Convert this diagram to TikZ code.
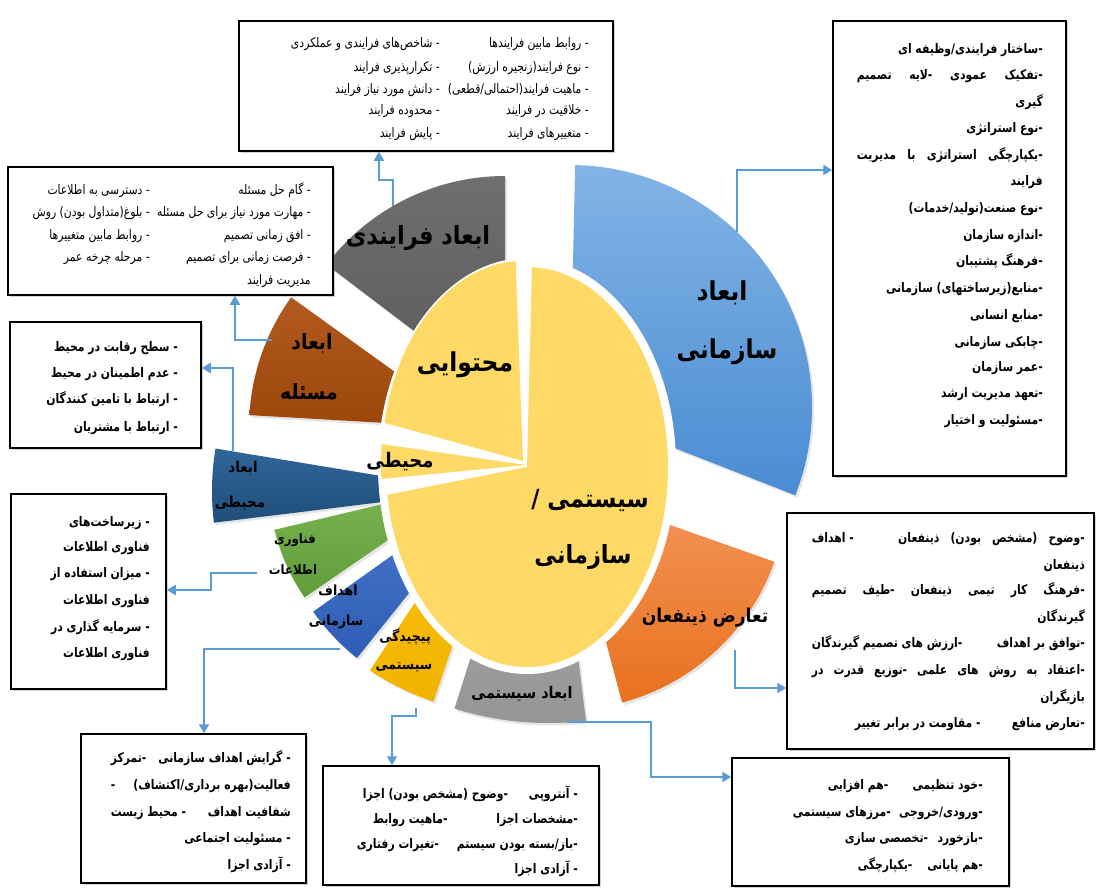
\documentclass[tikz,border=0pt]{standalone}
\usepackage{fontspec}
\usetikzlibrary{arrows.meta,shadows}
\TeXXeTstate=1
\newfontfamily\ar[Script=Arabic,FakeStretch=0.82]{DejaVu Sans}
\newfontfamily\arl[Script=Arabic,FakeStretch=0.9]{DejaVu Sans}
\definecolor{cYel}{HTML}{FFD966}
\definecolor{cArrow}{HTML}{5B9BD5}
\definecolor{gAt}{HTML}{6F6F6F}\definecolor{gAb}{HTML}{595959}
\definecolor{brt}{HTML}{B25A20}\definecolor{brb}{HTML}{9C460C}
\definecolor{nvt}{HTML}{2F6699}\definecolor{nvb}{HTML}{1F4E79}
\definecolor{grt}{HTML}{7AB650}\definecolor{grb}{HTML}{609C3A}
\definecolor{b2t}{HTML}{4C7CD0}\definecolor{b2b}{HTML}{2F5DB5}
\definecolor{gdt}{HTML}{FFC414}\definecolor{gdb}{HTML}{F0B400}
\definecolor{gyt}{HTML}{B0B0B0}\definecolor{gyb}{HTML}{969696}
\definecolor{ort}{HTML}{F4965A}\definecolor{orb}{HTML}{E8711E}
\definecolor{b1t}{HTML}{82B4E6}\definecolor{b1b}{HTML}{4A8CD2}
\newcommand{\mytl}[5][btxt]{\node[#1] (#2) at (#3,#4) {#5};}
\newcommand{\mytj}[6][btxt]{\node[#1] (#2) at (#3,#4) {\hbox to #5pt{#6}};}
\tikzset{
  btxt/.style={font=\ar\fontsize{13.2}{15}\selectfont, inner sep=0pt, anchor=base east},
  btxtb/.style={font=\ar\bfseries\fontsize{13.2}{15}\selectfont, inner sep=0pt, anchor=base east},
  lbl/.style={font=\arl\bfseries\fontsize{#1}{#1}\selectfont, inner sep=0pt},
  box/.style={draw=black, line width=1.5pt, fill=white, inner sep=0pt,
    drop shadow={shadow xshift=1.5pt, shadow yshift=-1.5pt, opacity=0.35}},
  sec/.style={drop shadow={shadow xshift=2pt, shadow yshift=-2.5pt, opacity=0.2}},
  arr/.style={draw=cArrow, line width=2.2pt, -{Triangle[length=9pt,width=10pt]}},
}
\begin{document}
\begin{tikzpicture}[x=1pt,y=-1pt]
\useasboundingbox (0,0) rectangle (1097,888);
\fill[white] (0,0) rectangle (1097,888);

% ---- outer sectors ----
\path[sec, top color=gAt, bottom color=gAb] (505,400) -- ++(-142.8:224) arc[start angle=-142.8, end angle=-90, radius=224] -- cycle;
\path[sec, top color=brt, bottom color=brb] (473,428) -- ++(183.3:224) arc[start angle=183.3, end angle=215.7, radius=224] -- cycle;
\path[sec, top color=nvt, bottom color=nvb] (472,491) -- ++(173:260) arc[start angle=173, end angle=189.4, radius=260] -- cycle;
\path[sec, top color=grt, bottom color=grb] (471,483) -- ++(145.5:202) arc[start angle=145.5, end angle=166.6, radius=202] -- cycle;
\path[sec, top color=b2t, bottom color=b2b] (502,477) -- ++(128.7:232) arc[start angle=128.7, end angle=144.5, radius=232] -- cycle;
\path[sec, top color=gdt, bottom color=gdb] (521,443) -- ++(108.7:273) arc[start angle=108.7, end angle=123.6, radius=273] -- cycle;
\path[sec, top color=gyt, bottom color=gyb] (548,412) -- ++(83:311) arc[start angle=83, end angle=107.5, radius=311] -- cycle;
\path[sec, top color=ort, bottom color=orb] (565,488) -- ++(19.4:222) arc[start angle=19.4, end angle=75.1, radius=222] -- cycle;
\path[sec, top color=b1t, bottom color=b1b] (570,407) -- ++(-88.8:242) arc[start angle=-88.8, end angle=21.4, radius=242] -- cycle;

% ---- mask and yellow pie ----
\fill[white] (527,466) ellipse[x radius=149, y radius=208];
\fill[cYel] (527,467) -- ++(-88:141 and 200) arc[start angle=-88, end angle=172, x radius=141, y radius=200] -- cycle;
\fill[cYel] (523,461) -- ++(-169:141 and 200) arc[start angle=-169, end angle=-93, x radius=141, y radius=200] -- cycle;
\fill[cYel] (526,465) -- ++(176:145 and 200) arc[start angle=176, end angle=186, x radius=145, y radius=200] -- cycle;

% ---- sector labels ----
\node[lbl=26] (n1a) at (722,293) {\beginR ابعاد\endR};
\node[lbl=26] (n1b) at (727,352) {\beginR سازمانی\endR};
\node[lbl=26] (n2) at (465,365) {\beginR محتوایی\endR};
\node[lbl=20] (n3) at (400,462) {\beginR محیطی\endR};
\node[lbl=25] (n4a) at (590,500) {\beginR سیستمی /\endR};
\node[lbl=25] (n4b) at (583,557) {\beginR سازمانی\endR};
\node[lbl=25] (n5) at (418,238) {\beginR ابعاد فرایندی\endR};
\node[lbl=21] (n6a) at (312,343) {\beginR ابعاد\endR};
\node[lbl=21] (n6b) at (309,392) {\beginR مسئله\endR};
\node[lbl=15] (n7a) at (243,468) {\beginR ابعاد\endR};
\node[lbl=15] (n7b) at (240,503) {\beginR محیطی\endR};
\node[lbl=13] (n8a) at (295,540) {\beginR فناوری\endR};
\node[lbl=13] (n8b) at (293,570) {\beginR اطلاعات\endR};
\node[lbl=14] (n9a) at (338,590) {\beginR اهداف\endR};
\node[lbl=14] (n9b) at (336,622) {\beginR سازمانی\endR};
\node[lbl=14] (n10a) at (405,637) {\beginR پیچیدگی\endR};
\node[lbl=14] (n10b) at (404,667) {\beginR سیستمی\endR};
\node[lbl=16] (n11) at (522,694) {\beginR ابعاد سیستمی\endR};
\node[lbl=19] (n12) at (705,618) {\beginR تعارض ذینفعان\endR};

% ---- boxes ----
\node[box, minimum width=374pt, minimum height=130pt] (btop) at (426,86) {};
\node[box, minimum width=325pt, minimum height=128pt] (bl1) at (170.5,231) {};
\node[box, minimum width=191pt, minimum height=126pt] (bl2) at (105.5,385) {};
\node[box, minimum width=155pt, minimum height=195pt] (bl3) at (88.5,591.5) {};
\node[box, minimum width=233pt, minimum height=455pt] (brt) at (949.5,248.5) {};
\node[box, minimum width=307pt, minimum height=236pt] (brm) at (940.5,631) {};
\node[box, minimum width=225pt, minimum height=149pt] (bbl) at (193.5,808.5) {};
\node[box, minimum width=276pt, minimum height=119pt] (bbm) at (461,825.5) {};
\node[box, minimum width=277pt, minimum height=128pt] (bbr) at (870.5,822) {};

% top box
\mytl{ta1}{589}{48}{\beginR - روابط مابین فرایندها\endR}
\mytl{ta2}{589}{72}{\beginR - نوع فرایند(زنجیره ارزش)\endR}
\mytl{ta3}{589}{94}{\beginR - ماهیت فرایند(احتمالی/قطعی)\endR}
\mytl{ta4}{589}{115}{\beginR - خلاقیت در فرایند\endR}
\mytl{ta5}{589}{137}{\beginR - متغییرهای فرایند\endR}
\mytl{tb1}{440}{48}{\beginR - شاخص‌های فرایندی و عملکردی\endR}
\mytl{tb2}{440}{72}{\beginR - تکرارپذیری فرایند\endR}
\mytl{tb3}{440}{94}{\beginR - دانش مورد نیاز فرایند\endR}
\mytl{tb4}{440}{115}{\beginR - محدوده فرایند\endR}
\mytl{tb5}{440}{137}{\beginR - پایش فرایند\endR}

% left box 1
\mytl{pa1}{311}{194}{\beginR - گام حل مسئله\endR}
\mytl{pa2}{311}{216}{\beginR - مهارت مورد نیاز برای حل مسئله\endR}
\mytl{pa3}{311}{239}{\beginR - افق زمانی تصمیم\endR}
\mytl{pa4}{311}{261}{\beginR - فرصت زمانی برای تصمیم\endR}
\mytl{pa5}{311}{284}{\beginR مدیریت فرایند\endR}
\mytl{pb1}{150}{194}{\beginR - دسترسی به اطلاعات\endR}
\mytl{pb2}{150}{216}{\beginR - بلوغ(متداول بودن) روش\endR}
\mytl{pb3}{150}{239}{\beginR - روابط مابین متغییرها\endR}
\mytl{pb4}{150}{261}{\beginR - مرحله چرخه عمر\endR}

% left box 2
\mytl[btxtb]{ea1}{178}{351}{\beginR - سطح رقابت در محیط\endR}
\mytl[btxtb]{ea2}{178}{377}{\beginR - عدم اطمینان در محیط\endR}
\mytl[btxtb]{ea3}{178}{403}{\beginR - ارتباط با تامین کنندگان\endR}
\mytl[btxtb]{ea4}{178}{431}{\beginR - ارتباط با مشتریان\endR}

% left box 3
\mytl[btxtb]{ia1}{150}{526}{\beginR - زیرساخت‌های\endR}
\mytl[btxtb]{ia2}{150}{551}{\beginR فناوری اطلاعات\endR}
\mytl[btxtb]{ia3}{150}{577}{\beginR - میزان استفاده از\endR}
\mytl[btxtb]{ia4}{150}{604}{\beginR فناوری اطلاعات\endR}
\mytl[btxtb]{ia5}{150}{631}{\beginR - سرمایه گذاری در\endR}
\mytl[btxtb]{ia6}{150}{657}{\beginR فناوری اطلاعات\endR}

% right top box
\mytl[btxtb]{oa1}{1043}{54}{\beginR -ساختار فرایندی/وظیفه ای\endR}
\mytj[btxtb]{oa2}{1043}{80}{186}{\beginR -تفکیک\hfill عمودی\hfill -لایه\hfill تصمیم\endR}
\mytl[btxtb]{oa3}{1043}{107}{\beginR گیری\endR}
\mytl[btxtb]{oa4}{1043}{132}{\beginR -نوع استراتژی\endR}
\mytj[btxtb]{oa5}{1043}{159}{186}{\beginR -یکپارچگی\hfill استراتژی\hfill با\hfill مدیریت\endR}
\mytl[btxtb]{oa6}{1043}{185}{\beginR فرایند\endR}
\mytl[btxtb]{oa7}{1043}{212}{\beginR -نوع صنعت(تولید/خدمات)\endR}
\mytl[btxtb]{oa8}{1043}{239}{\beginR -اندازه سازمان\endR}
\mytl[btxtb]{oa9}{1043}{265}{\beginR -فرهنگ پشتیبان\endR}
\mytl[btxtb]{oa10}{1043}{292}{\beginR -منابع(زیرساختهای) سازمانی\endR}
\mytl[btxtb]{oa11}{1043}{319}{\beginR -منابع انسانی\endR}
\mytl[btxtb]{oa12}{1043}{346}{\beginR -چابکی سازمانی\endR}
\mytl[btxtb]{oa13}{1043}{371}{\beginR -عمر سازمان\endR}
\mytl[btxtb]{oa14}{1043}{397}{\beginR -تعهد مدیریت ارشد\endR}
\mytl[btxtb]{oa15}{1043}{424}{\beginR -مسئولیت و اختیار\endR}

% right middle box
\mytj[btxtb]{sa1}{1085}{542}{273}{\beginR -وضوح\hfill (مشخص\hfill بودن)\hfill ذینفعان\hfill\hfill\hfill\hfill - اهداف\endR}
\mytl[btxtb]{sa2}{1085}{569}{\beginR ذینفعان\endR}
\mytj[btxtb]{sa3}{1085}{594}{273}{\beginR -فرهنگ\hfill کار\hfill تیمی\hfill ذینفعان\hfill -طیف\hfill تصمیم\endR}
\mytl[btxtb]{sa4}{1085}{621}{\beginR گیرندگان\endR}
\mytj[btxtb]{sa5}{1085}{647}{273}{\beginR -توافق بر اهداف\hfill -ارزش های تصمیم گیرندگان\endR}
\mytj[btxtb]{sa6}{1085}{674}{273}{\beginR -اعتقاد\hfill به\hfill روش\hfill های\hfill علمی\hfill -توزیع\hfill قدرت\hfill در\endR}
\mytl[btxtb]{sa7}{1085}{701}{\beginR بازیگران\endR}
\mytj[btxtb]{sa8}{1085}{727}{230}{\beginR -تعارض منافع\hfill - مقاومت در برابر تغییر\endR}

% bottom left box
\mytj[btxtb]{ga1}{291}{762}{180}{\beginR - گرایش اهداف سازمانی\hfill -تمرکز\endR}
\mytj[btxtb]{ga2}{291}{789}{180}{\beginR فعالیت(بهره برداری/اکتشاف)\hfill -\endR}
\mytj[btxtb]{ga3}{291}{816}{180}{\beginR شفافیت اهداف\hfill - محیط زیست\endR}
\mytl[btxtb]{ga4}{291}{842}{\beginR - مسئولیت اجتماعی\endR}
\mytl[btxtb]{ga5}{291}{869}{\beginR - آزادی اجزا\endR}

% bottom middle box
\mytj[btxtb]{ca1}{578}{798}{215}{\beginR - آنتروپی\hfill -وضوح (مشخص بودن) اجزا\endR}
\mytj[btxtb]{ca2}{578}{823}{205}{\beginR -مشخصات اجزا\hfill -ماهیت روابط\endR}
\mytj[btxtb]{ca3}{578}{848}{221}{\beginR -باز/بسته بودن سیستم\hfill -تغیرات رفتاری\endR}
\mytl[btxtb]{ca4}{578}{873}{\beginR - آزادی اجزا\endR}

% bottom right box
\mytj[btxtb]{ra1}{983}{789}{155}{\beginR -خود تنظیمی\hfill -هم افزایی\endR}
\mytj[btxtb]{ra2}{983}{816}{190}{\beginR -ورودی/خروجی\hfill -مرزهای سیستمی\endR}
\mytj[btxtb]{ra3}{983}{842}{138}{\beginR -بازخورد\hfill -تخصصی سازی\endR}
\mytj[btxtb]{ra4}{983}{869}{125}{\beginR -هم پایانی\hfill -یکپارچگی\endR}

% ---- connectors ----
\coordinate (sA) at (737,232);
\coordinate (sB) at (735,650);
\coordinate (sC) at (567,722);
\coordinate (sD) at (416,708);
\coordinate (sE) at (340,649);
\coordinate (sF) at (257,573);
\coordinate (sG) at (233,451);
\coordinate (sH) at (272,340);
\coordinate (sI) at (393,206);
\draw[arr] (sA) |- (brt.west |- 0,170);
\draw[arr] (sB) |- (brm.west |- 0,688);
\draw[arr] (sC) -| (651,750) |- (bbr.west |- 0,777);
\draw[arr] (sD) |- (400,716) -| (bbm.north -| 392,0);
\draw[arr] (sE) -| (bbl.north -| 204,0);
\draw[arr] (sF) -| (211,582) |- (bl3.east |- 0,590);
\draw[arr] (sG) |- (bl2.east |- 0,368);
\draw[arr] (sH) -| (bl1.south -| 235,0);
\draw[arr] (sI) |- (385,180) -| (btop.south -| 379,0);
\end{tikzpicture}
\end{document}
